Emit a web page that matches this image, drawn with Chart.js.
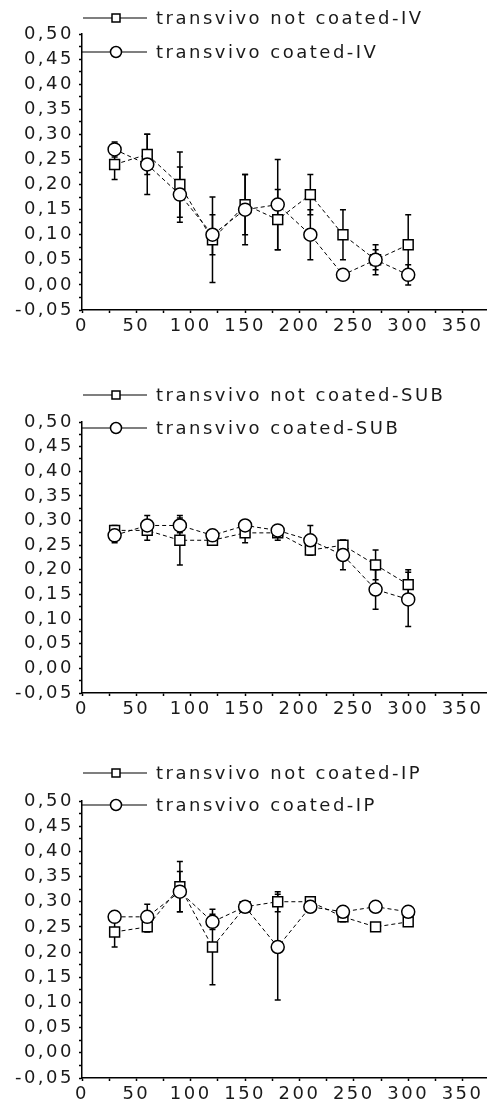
<!DOCTYPE html>
<html>
<head>
<meta charset="utf-8">
<script src="https://cdn.jsdelivr.net/npm/chart.js@4.4.0/dist/chart.umd.min.js"></script>
<style>
  html, body { margin: 0; padding: 0; background: #fff; }
  #wrap { position: relative; width: 495px; height: 1110px; }
  canvas { position: absolute; left: 0; }
</style>
</head>
<body>
<div id="wrap">
  <canvas id="c1" width="495" height="350" style="top:0px"></canvas>
  <canvas id="c2" width="495" height="380" style="top:350px"></canvas>
  <canvas id="c3" width="495" height="380" style="top:730px"></canvas>
</div>
<script>
// time points (x)
const times = [30, 60, 90, 120, 150, 180, 210, 240, 270, 300];

// IV
const ivNotCoated    = [0.24, 0.26, 0.20, 0.09, 0.16, 0.13, 0.18, 0.10, 0.05, 0.08];
const ivNotCoatedErr = [0.03, 0.04, 0.065, 0.085, 0.06, 0.06, 0.04, 0.05, 0.03, 0.06];
const ivCoated       = [0.27, 0.24, 0.18, 0.10, 0.15, 0.16, 0.10, 0.02, 0.05, 0.02];
const ivCoatedErr    = [0.015, 0.06, 0.055, 0.04, 0.07, 0.09, 0.05, 0.0, 0.02, 0.02];

// SUB
const subNotCoated    = [0.28, 0.28, 0.26, 0.26, 0.275, 0.275, 0.24, 0.25, 0.21, 0.17];
const subNotCoatedErr = [0.01, 0.02, 0.05, 0.01, 0.02, 0.015, 0.01, 0.01, 0.03, 0.03];
const subCoated       = [0.27, 0.29, 0.29, 0.27, 0.29, 0.28, 0.26, 0.23, 0.16, 0.14];
const subCoatedErr    = [0.015, 0.02, 0.015, 0.01, 0.01, 0.01, 0.03, 0.03, 0.04, 0.055];

// IP
const ipNotCoated    = [0.24, 0.25, 0.33, 0.21, 0.29, 0.30, 0.30, 0.27, 0.25, 0.26];
const ipNotCoatedErr = [0.03, 0.01, 0.05, 0.075, 0.005, 0.02, 0.005, 0.01, 0.005, 0.005];
const ipCoated       = [0.27, 0.27, 0.32, 0.26, 0.29, 0.21, 0.29, 0.28, 0.29, 0.28];
const ipCoatedErr    = [0.01, 0.025, 0.04, 0.015, 0.005, 0.105, 0.01, 0.005, 0.01, 0.005];

// tick positions
const xTickValues = [0, 25, 50, 75, 100, 125, 150, 175, 200, 225, 250, 275, 300, 325, 350];
const yTickValues = [-0.05, -0.025, 0, 0.025, 0.05, 0.075, 0.1, 0.125, 0.15, 0.175, 0.2, 0.225,
                     0.25, 0.275, 0.3, 0.325, 0.35, 0.375, 0.4, 0.425, 0.45, 0.475, 0.5];

const FONT = 'DejaVu Sans';
const INK = '#1a1a1a';
const SPACING = '2.5px';

// spaced-out lettering like the original
const spacing = {
  id: 'spacing',
  beforeLayout(chart) { chart.ctx.letterSpacing = SPACING; },
  beforeDraw(chart) { chart.ctx.letterSpacing = SPACING; }
};

// vertical error bars behind the markers
const errorBars = {
  id: 'errorBars',
  beforeDatasetsDraw(chart) {
    const { ctx, scales: { x, y } } = chart;
    ctx.save();
    ctx.strokeStyle = '#000';
    ctx.lineWidth = 1.5;
    chart.data.datasets.forEach(ds => {
      ds.data.forEach((p, i) => {
        const e = ds.errors[i];
        if (!e) return;
        const px = x.getPixelForValue(p.x);
        const top = y.getPixelForValue(p.y + e);
        const bot = y.getPixelForValue(p.y - e);
        ctx.beginPath();
        ctx.moveTo(px, top); ctx.lineTo(px, bot);
        ctx.moveTo(px - 3, top); ctx.lineTo(px + 3, top);
        ctx.moveTo(px - 3, bot); ctx.lineTo(px + 3, bot);
        ctx.stroke();
      });
    });
    ctx.restore();
  }
};

// legend: line with marker, text to the right
const markerLegend = {
  id: 'markerLegend',
  afterDraw(chart, args, opts) {
    const ctx = chart.ctx;
    ctx.save();
    ctx.letterSpacing = SPACING;
    opts.rows.forEach(r => {
      ctx.strokeStyle = '#000';
      ctx.lineWidth = 1.2;
      ctx.beginPath();
      ctx.moveTo(r.x0, r.y); ctx.lineTo(147, r.y);
      ctx.stroke();
      ctx.fillStyle = '#fff';
      ctx.lineWidth = 1.5;
      ctx.beginPath();
      if (r.style === 'rect') ctx.rect(116 - 4, r.y - 4, 8, 8);
      else ctx.arc(116, r.y, 5.5, 0, Math.PI * 2);
      ctx.fill(); ctx.stroke();
      ctx.fillStyle = INK;
      ctx.font = '18px "' + FONT + '"';
      ctx.textBaseline = 'middle';
      ctx.textAlign = 'left';
      ctx.fillText(r.text, 156, r.y + 1);
    });
    ctx.restore();
  }
};

function series(vals, errs, name, style, order) {
  return {
    label: name,
    data: times.map((t, i) => ({ x: t, y: vals[i] })),
    errors: errs,
    order: order,
    borderColor: '#000',
    borderWidth: 1,
    borderDash: [4, 3],
    pointStyle: style,
    pointRadius: style === 'rect' ? 7 : 6.5,
    pointBorderWidth: 1.5,
    pointBackgroundColor: '#fff',
    pointBorderColor: '#000',
    fill: false,
    tension: 0
  };
}

function fmtY(v) {
  if (Math.abs(v * 20 - Math.round(v * 20)) > 1e-6) return '';
  return v.toFixed(2).replace('.', ',');
}

function makeChart(id, L, notVals, notErr, coVals, coErr, notName, coName) {
  new Chart(document.getElementById(id), {
    type: 'line',
    data: {
      datasets: [
        series(notVals, notErr, notName, 'rect', 1),
        series(coVals, coErr, coName, 'circle', 0)
      ]
    },
    options: {
      responsive: false,
      animation: false,
      layout: { padding: { top: L.top, right: 2, bottom: 0, left: 0 } },
      plugins: {
        legend: { display: false },
        tooltip: { enabled: false },
        markerLegend: {
          rows: [
            { text: notName, style: 'rect', y: L.leg1, x0: 83 },
            { text: coName, style: 'circle', y: L.leg2, x0: 82 }
          ]
        }
      },
      scales: {
        x: {
          type: 'linear', min: 0, max: 372,
          afterBuildTicks: s => { s.ticks = xTickValues.map(v => ({ value: v })); },
          afterFit: s => { s.height = L.xAxisH; },
          ticks: {
            autoSkip: false, maxRotation: 0, padding: 3, color: INK,
            font: { family: FONT, size: 18 },
            callback: v => (v % 50 === 0 ? String(v) : '')
          },
          grid: { drawOnChartArea: false, tickLength: 3, color: '#000', tickWidth: 1.5 },
          border: { color: '#000', width: 1.5 }
        },
        y: {
          type: 'linear', min: -0.05, max: 0.5,
          afterBuildTicks: s => { s.ticks = yTickValues.map(v => ({ value: v })); },
          afterFit: s => { s.width = 82; },
          ticks: {
            autoSkip: false, padding: 5, color: INK,
            font: { family: FONT, size: 18 },
            callback: v => fmtY(v)
          },
          grid: { drawOnChartArea: false, tickLength: 3, color: '#000', tickWidth: 1.5 },
          border: { color: '#000', width: 1.5 }
        }
      }
    },
    plugins: [spacing, errorBars, markerLegend]
  });
}

makeChart('c1', { top: 34, xAxisH: 40, leg1: 18, leg2: 52 },
  ivNotCoated, ivNotCoatedErr, ivCoated, ivCoatedErr,
  'transvivo not coated-IV', 'transvivo coated-IV');
makeChart('c2', { top: 72, xAxisH: 37, leg1: 45, leg2: 78 },
  subNotCoated, subNotCoatedErr, subCoated, subCoatedErr,
  'transvivo not coated-SUB', 'transvivo coated-SUB');
makeChart('c3', { top: 71, xAxisH: 32, leg1: 43, leg2: 75 },
  ipNotCoated, ipNotCoatedErr, ipCoated, ipCoatedErr,
  'transvivo not coated-IP', 'transvivo coated-IP');
</script>
</body>
</html>
